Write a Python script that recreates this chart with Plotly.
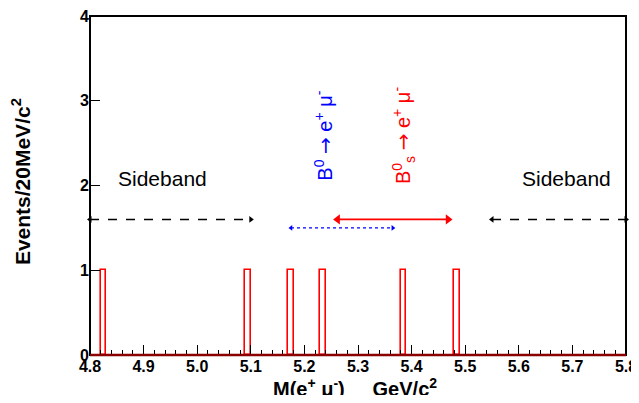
import plotly.graph_objects as go

# Data
bin_centers = [4.825, 5.095, 5.175, 5.235, 5.385, 5.485]
counts = [1, 1, 1, 1, 1, 1]
bin_width = 0.01

x_tick_vals = [4.8, 4.9, 5.0, 5.1, 5.2, 5.3, 5.4, 5.5, 5.6, 5.7, 5.8]
x_tick_text = ["4.8", "4.9", "5.0", "5.1", "5.2", "5.3", "5.4", "5.5", "5.6", "5.7", "5.8"]
y_tick_vals = [0, 1, 2, 3, 4]

sideband_left_x = [4.8, 5.1]
sideband_right_x = [5.55, 5.8]
sideband_y = 1.6
b0_window_x = [5.175, 5.365]
b0_window_y = 1.5
bs_window_x = [5.262, 5.468]
bs_window_y = 1.6

fig = go.Figure()

fig.add_trace(go.Bar(
    x=bin_centers, y=counts, width=bin_width,
    marker=dict(color="rgba(0,0,0,0)", line=dict(color="red", width=1.6)),
    showlegend=False, hoverinfo="skip",
))

def arrow(xs, y, color, dash, width, size):
    fig.add_trace(go.Scatter(
        x=xs, y=[y, y], mode="lines",
        line=dict(color=color, dash=dash, width=width),
        showlegend=False, hoverinfo="skip",
    ))
    fig.add_trace(go.Scatter(
        x=xs, y=[y, y], mode="markers",
        marker=dict(symbol=["triangle-left", "triangle-right"], size=size, color=color),
        showlegend=False, hoverinfo="skip", cliponaxis=False,
    ))

arrow(sideband_left_x, sideband_y, "black", "dash", 1.5, 6)
arrow(sideband_right_x, sideband_y, "black", "dash", 1.5, 6)
arrow(b0_window_x, b0_window_y, "blue", "dot", 1.3, 5)
arrow(bs_window_x, bs_window_y, "red", "solid", 1.6, 9)

font_family = "Liberation Sans, Arial, sans-serif"
arr = '<span style="font-family:DejaVu Sans">→</span>'

annotations = [
    dict(x=4.935, y=2.08, text="Sideband", showarrow=False,
         font=dict(size=21, color="black", family=font_family)),
    dict(x=5.689, y=2.08, text="Sideband", showarrow=False,
         font=dict(size=21, color="black", family=font_family)),
    dict(x=5.235, y=2.59, text="B<sup>0</sup> " + arr + " e<sup>+</sup> μ<sup>-</sup>", textangle=-90,
         showarrow=False, font=dict(size=20, color="blue", family=font_family)),
    dict(x=5.385, y=2.59, text="B<sup>0</sup><sub>s</sub> " + arr + " e<sup>+</sup> μ<sup>-</sup>", textangle=-90,
         showarrow=False, font=dict(size=20, color="red", family=font_family)),
    dict(xref="paper", yref="paper", x=0, y=0.51, xshift=-69, text="Events/20MeV/c<sup>2</sup>",
         textangle=-90, showarrow=False, xanchor="center", yanchor="middle",
         font=dict(size=21, color="black", family=font_family, weight="bold")),
    dict(x=5.295, xref="x", yref="paper", y=0, yshift=-32, yanchor="middle",
         text="M(e<sup>+</sup> μ<sup>-</sup>)     GeV/c<sup>2</sup>", showarrow=False,
         font=dict(size=20, color="black", family=font_family, weight="bold")),
]

shapes = [
    dict(type="rect", xref="paper", yref="paper", x0=0, y0=0, x1=1, y1=1,
         line=dict(color="black", width=2), layer="above"),
    dict(type="line", xref="paper", yref="paper", x0=0, y0=0, x1=1, y1=0,
         line=dict(color="#8b0000", width=2.5), layer="above"),
]

fig.update_layout(
    width=631, height=387,
    margin=dict(l=82, r=13, t=8, b=40, autoexpand=False),
    paper_bgcolor="white", plot_bgcolor="white",
    annotations=annotations, shapes=shapes,
    bargap=0,
    font=dict(family=font_family),
)

fig.update_xaxes(
    range=[4.8, 5.8], tickvals=x_tick_vals, ticktext=x_tick_text,
    ticks="inside", ticklen=10, tickwidth=1.2, tickcolor="black",
    minor=dict(ticks="inside", ticklen=5, dtick=0.02, tick0=4.8, tickcolor="black", tickwidth=1),
    showgrid=False, zeroline=False, showline=False, automargin=False,
    tickfont=dict(size=16, color="black", family=font_family, weight="bold"),
    ticklabeloverflow="allow",
)
fig.update_yaxes(
    range=[0, 4], tickvals=y_tick_vals,
    ticks="inside", ticklen=10, tickwidth=1.2, tickcolor="black",
    showgrid=False, zeroline=False, showline=False, automargin=False,
    tickfont=dict(size=16, color="black", family=font_family, weight="bold"),
    ticklabeloverflow="allow",
)

fig.write_html("out.html")
